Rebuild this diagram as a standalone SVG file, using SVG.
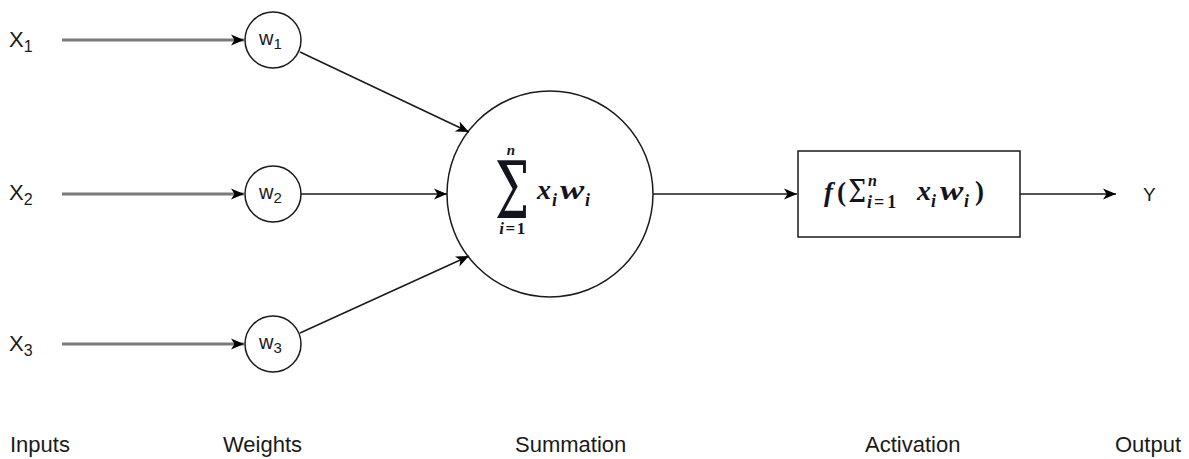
<svg xmlns="http://www.w3.org/2000/svg" width="1189" height="459" viewBox="0 0 1189 459">
  <style>
    .lbl { font-family: "Liberation Sans", Arial, sans-serif; fill: #1a1a1a; }
    .math { font-family: "Liberation Serif", "Times New Roman", serif; font-weight: bold; font-style: italic; fill: #14141e; }
    .up { font-style: normal; }
    .op { font-family: "DejaVu Serif", "Liberation Serif", serif; font-weight: normal; font-style: normal; fill: #14141e; }
    .node { fill: #ffffff; stroke: #1a1a1a; stroke-width: 1.5; }
    .feed { stroke: #7a7a7a; stroke-width: 3; fill: none; }
    .edge { stroke: #1a1a1a; stroke-width: 1.5; fill: none; }
  </style>
  <defs>
    <marker id="arrow" markerUnits="userSpaceOnUse" markerWidth="14" markerHeight="12" refX="13" refY="6" orient="auto">
      <path d="M0,0.5 L13,6 L0,11.5 L3.5,6 Z" fill="#000000"/>
    </marker>
  </defs>

  <rect width="1189" height="459" fill="#ffffff"/>

  <!-- inputs -->
  <g id="x1"><text class="lbl" x="9" y="47" font-size="22">X<tspan font-size="16" dy="5">1</tspan></text></g>
  <g id="x2"><text class="lbl" x="9" y="200" font-size="22">X<tspan font-size="16" dy="5">2</tspan></text></g>
  <g id="x3"><text class="lbl" x="9" y="351" font-size="22">X<tspan font-size="16" dy="5">3</tspan></text></g>

  <!-- weights -->
  <g id="w1">
    <circle class="node" cx="273" cy="40" r="28"/>
    <text class="lbl" x="259" y="45" font-size="20">w<tspan font-size="15" dy="4">1</tspan></text>
  </g>
  <g id="w2">
    <circle class="node" cx="273" cy="194" r="28"/>
    <text class="lbl" x="259" y="199" font-size="20">w<tspan font-size="15" dy="4">2</tspan></text>
  </g>
  <g id="w3">
    <circle class="node" cx="273" cy="344" r="28"/>
    <text class="lbl" x="259" y="349" font-size="20">w<tspan font-size="15" dy="4">3</tspan></text>
  </g>

  <!-- summation -->
  <g id="summation">
    <circle class="node" cx="550" cy="194" r="103"/>
    <text class="math" x="511" y="155" font-size="15" text-anchor="middle">n</text>
    <text class="op" transform="translate(512,218) scale(0.62,1)" font-size="78" text-anchor="middle">Σ</text>
    <text class="math" x="513" y="234" font-size="17" letter-spacing="1.5" text-anchor="middle">i<tspan class="up">=1</tspan></text>
    <text class="math" x="537" y="199" font-size="28">x</text>
    <text class="math" x="552" y="206" font-size="18">i</text>
    <text class="math" transform="translate(560,199) scale(1.3,1)" font-size="28">w</text>
    <text class="math" x="585" y="206" font-size="18">i</text>
  </g>

  <!-- activation -->
  <g id="activation">
    <rect class="node" x="798" y="151" width="222" height="86"/>
    <text class="math" x="824" y="201" font-size="27">f</text>
    <text class="math up" x="837" y="201" font-size="27">(</text>
    <text class="op" transform="translate(857,202) scale(0.8,1)" font-size="32" text-anchor="middle">Σ</text>
    <text class="math" x="868" y="186" font-size="16">n</text>
    <text class="math" x="867" y="208" font-size="18">i<tspan class="up" dx="2">=</tspan><tspan class="up" dx="3">1</tspan></text>
    <text class="math" x="917" y="200" font-size="28">x</text>
    <text class="math" x="931" y="207" font-size="18">i</text>
    <text class="math" transform="translate(940,200) scale(1.25,1)" font-size="28">w</text>
    <text class="math" x="964" y="207" font-size="18">i</text>
    <text class="math up" x="975" y="200" font-size="27">)</text>
  </g>

  <!-- output -->
  <g id="y"><text class="lbl" x="1143" y="201" font-size="19">Y</text></g>

  <!-- column captions -->
  <g id="captions" class="lbl" font-size="22">
    <text x="10" y="452">Inputs</text>
    <text x="223" y="452">Weights</text>
    <text x="515" y="452">Summation</text>
    <text x="865" y="452">Activation</text>
    <text x="1115" y="452">Output</text>
  </g>

  <!-- connectors -->
  <g id="connectors">
    <line class="feed" x1="62" y1="40" x2="244" y2="40" marker-end="url(#arrow)"/>
    <line class="feed" x1="62" y1="194" x2="244" y2="194" marker-end="url(#arrow)"/>
    <line class="feed" x1="62" y1="344" x2="244" y2="344" marker-end="url(#arrow)"/>
    <line class="edge" x1="300" y1="52" x2="469" y2="132" marker-end="url(#arrow)"/>
    <line class="edge" x1="301" y1="194" x2="447" y2="194" marker-end="url(#arrow)"/>
    <line class="edge" x1="300" y1="333" x2="469" y2="256" marker-end="url(#arrow)"/>
    <line class="edge" x1="653" y1="194" x2="797" y2="194" marker-end="url(#arrow)"/>
    <line class="edge" x1="1020" y1="194" x2="1116" y2="194" marker-end="url(#arrow)"/>
  </g>
</svg>
